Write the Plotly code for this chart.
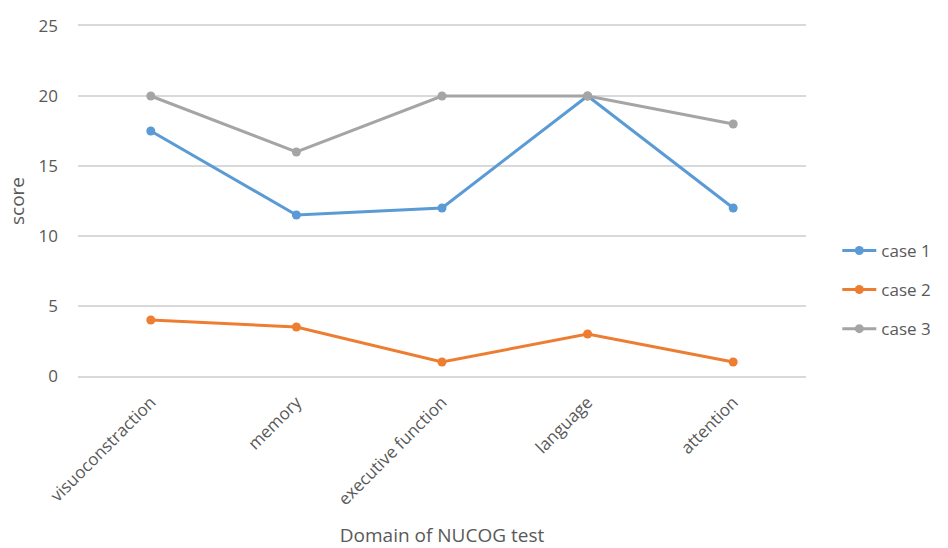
import plotly.graph_objects as go

domains = ["visuoconstraction", "memory", "executive function", "language", "attention"]
case1 = [17.5, 11.5, 12, 20, 12]
case2 = [4, 3.5, 1, 3, 1]
case3 = [20, 16, 20, 20, 18]
series_names = ["case 1", "case 2", "case 3"]
colors = ["#5B9BD5", "#ED7D31", "#A5A5A5"]
y_ticks = [0, 5, 10, 15, 20, 25]

font_family = "Open Sans, Liberation Sans, sans-serif"
text_color = "#595959"
grid_color = "#D9D9D9"

fig = go.Figure()
for name, vals, col in zip(series_names, [case1, case2, case3], colors):
    fig.add_trace(go.Scatter(
        x=domains, y=vals, name=name, mode="lines+markers",
        line=dict(color=col, width=3),
        marker=dict(color=col, size=9),
        legendgroup=name,
    ))

fig.update_layout(
    width=948, height=548,
    margin=dict(l=78, r=140, t=26, b=172),
    paper_bgcolor="white", plot_bgcolor="white",
    font=dict(family=font_family, size=17, color=text_color),
    showlegend=True,
    legend=dict(
        x=1.043, xanchor="left", y=0.246, yanchor="middle",
        font=dict(size=17, color=text_color),
        tracegroupgap=14, itemwidth=34,
        bgcolor="rgba(0,0,0,0)",
    ),
    xaxis=dict(
        type="category", tickangle=-45, showgrid=False, zeroline=False,
        showline=True, mirror=True, linecolor=grid_color, linewidth=1.5,
        ticks="", tickfont=dict(size=17, color=text_color), ticklabelstandoff=8,
        title=dict(text="Domain of NUCOG test", font=dict(size=19, color=text_color), standoff=26),
        range=[-0.5, 4.5], automargin=False,
    ),
    yaxis=dict(
        range=[0, 25], tickvals=y_ticks, showgrid=True, gridcolor=grid_color,
        gridwidth=1.5, zeroline=False, showline=False, ticks="",
        tickfont=dict(size=17, color=text_color), ticklabelstandoff=19,
        title=dict(text="score", font=dict(size=19, color=text_color), standoff=8),
        automargin=False,
    ),
)

fig.write_html("out.html")
